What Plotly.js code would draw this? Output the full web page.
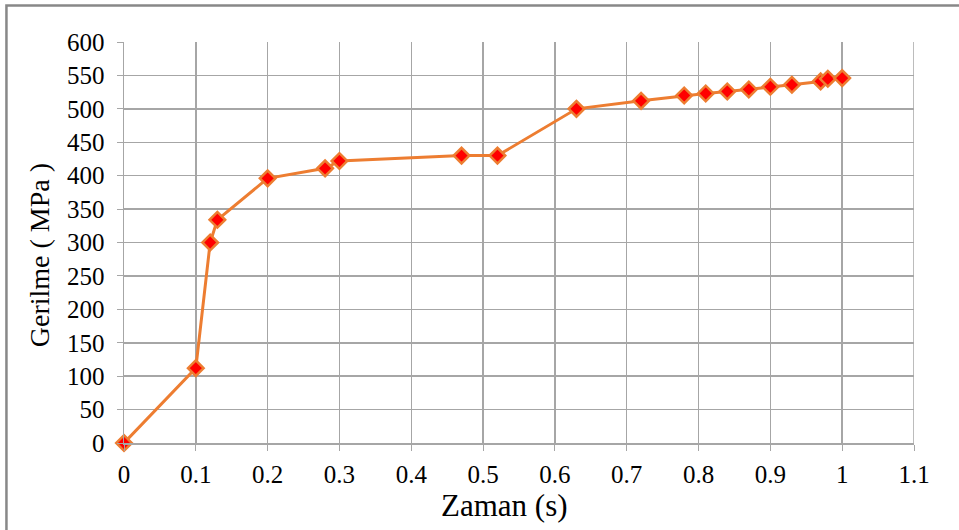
<!DOCTYPE html>
<html>
<head>
<meta charset="utf-8">
<script src="https://cdn.plot.ly/plotly-3.0.1.min.js"></script>
<style>html,body{margin:0;padding:0;background:#fff;}#chart{width:959px;height:530px;}</style>
</head>
<body>
<div id="chart"></div>
<script>
const zaman = [0, 0.1, 0.12, 0.13, 0.2, 0.28, 0.3, 0.47, 0.52, 0.63, 0.72, 0.78, 0.81, 0.84, 0.87, 0.9, 0.93, 0.97, 0.98, 1.0];
const gerilme = [0, 112, 300, 334, 396, 411, 422, 430, 430, 500, 512, 520, 523, 526, 529, 533, 536, 541, 545, 546];
const xTicks = [0, 0.1, 0.2, 0.3, 0.4, 0.5, 0.6, 0.7, 0.8, 0.9, 1, 1.1];
const yTicks = [0, 50, 100, 150, 200, 250, 300, 350, 400, 450, 500, 550, 600];
const xTitle = 'Zaman (s)';
const yTitle = 'Gerilme ( MPa )';

const FAM = 'Liberation Serif, Times New Roman, serif';
const trace = {
  x: zaman, y: gerilme, type: 'scatter', mode: 'lines+markers',
  line: {color: '#ED7D31', width: 3},
  marker: {symbol: 'diamond', size: 12, color: '#FF0000', line: {color: '#ED7D31', width: 2.5}},
  cliponaxis: false, showlegend: false
};
const layout = {
  width: 959, height: 530,
  margin: {l: 124, r: 45, t: 42, b: 87},
  paper_bgcolor: '#fff', plot_bgcolor: '#fff',
  font: {family: FAM, color: '#000'},
  xaxis: {
    range: [0, 1.1], tickvals: xTicks, ticktext: xTicks.map(String),
    showgrid: true, gridcolor: '#a6a6a6', gridwidth: 1.5,
    zeroline: false, showline: true, linecolor: '#a6a6a6', linewidth: 1.5,
    ticks: 'outside', ticklen: 6, tickcolor: '#a6a6a6', ticklabelstandoff: 2,
    tickfont: {family: FAM, size: 25, color: '#000'}
  },
  yaxis: {
    range: [0, 600], tickvals: yTicks, ticktext: yTicks.map(String),
    showgrid: true, gridcolor: '#a6a6a6', gridwidth: 1.5,
    zeroline: false, showline: true, linecolor: '#a6a6a6', linewidth: 1.5,
    ticks: 'outside', ticklen: 6, tickcolor: '#a6a6a6', ticklabelstandoff: 7,
    tickfont: {family: FAM, size: 25, color: '#000'}
  },
  annotations: [
    {text: xTitle, xref: 'paper', yref: 'paper', x: 0.482, y: -0.155, xanchor: 'center', yanchor: 'middle',
     showarrow: false, font: {family: FAM, size: 31, color: '#000'}},
    {text: yTitle, xref: 'paper', yref: 'paper', x: -0.106, y: 0.469, xanchor: 'center', yanchor: 'middle',
     textangle: -90, showarrow: false, font: {family: FAM, size: 28, color: '#000'}}
  ],
  shapes: [
    {type: 'line', xref: 'x', yref: 'paper', x0: 1.1, x1: 1.1, y0: 0, y1: 1, line: {color: '#a6a6a6', width: 1.5}},
    {type: 'rect', xref: 'paper', yref: 'paper', x0: -0.1488, x1: 1.2, y0: -0.4, y1: 1.091,
     line: {color: '#888', width: 2.5}, fillcolor: 'rgba(0,0,0,0)', layer: 'below'}
  ]
};
Plotly.newPlot('chart', [trace], layout, {displayModeBar: false, staticPlot: true});
</script>
</body>
</html>
